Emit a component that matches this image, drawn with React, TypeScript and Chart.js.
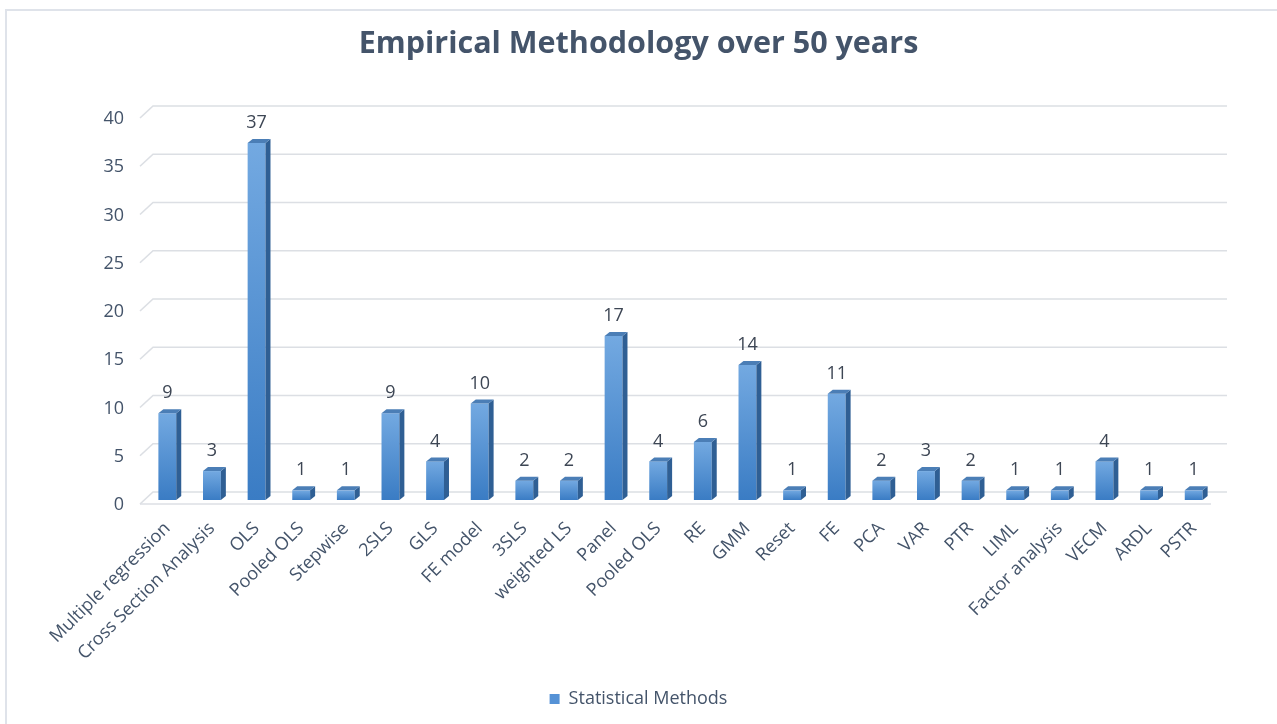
import React, { useEffect, useRef } from "react";
import { Chart, registerables } from "chart.js";

Chart.register(...registerables);

const categories: string[] = [
  "Multiple regression",
  "Cross Section Analysis",
  "OLS",
  "Pooled OLS",
  "Stepwise",
  "2SLS",
  "GLS",
  "FE model",
  "3SLS",
  "weighted LS",
  "Panel",
  "Pooled OLS",
  "RE",
  "GMM",
  "Reset",
  "FE",
  "PCA",
  "VAR",
  "PTR",
  "LIML",
  "Factor analysis",
  "VECM",
  "ARDL",
  "PSTR",
];

const methodCounts: number[] = [9, 3, 37, 1, 1, 9, 4, 10, 2, 2, 17, 4, 6, 14, 1, 11, 2, 3, 2, 1, 1, 4, 1, 1];

const seriesName = "Statistical Methods";
const chartTitle = "Empirical Methodology over 50 years";

const yMin = 0;
const yMax = 40;
const yStep = 5;

const FONT = "'Open Sans', 'DejaVu Sans', sans-serif";
const TEXT_COLOR = "#44546a";
const LABEL_COLOR = "#3d4654";
const GRID_COLOR = "#dcdfe4";
const FRONT_TOP = "#73a9e1";
const FRONT_BOTTOM = "#3a7cc4";
const SIDE_COLOR = "#2f5f94";
const TOP_COLOR = "#4b7eb6";
const LEGEND_SWATCH = "#5592d6";

// depth of the pseudo-3D bars and of the back wall
const BAR_DX = 5;
const BAR_DY = 4;
const WALL_DX = 13;
const WALL_DY = 12;

const frame = {
  id: "frame",
  beforeDraw(chart: any) {
    const { ctx, width, height } = chart;
    ctx.save();
    ctx.fillStyle = "#ffffff";
    ctx.fillRect(0, 0, width, height);
    ctx.strokeStyle = "#dfe3ea";
    ctx.lineWidth = 2;
    ctx.strokeRect(6, 10, width + 20, height + 20);
    ctx.restore();
  },
};

// back-wall gridlines with a slanted segment at the left, and the floor edge
const wall3d = {
  id: "wall3d",
  beforeDatasetsDraw(chart: any) {
    const { ctx, chartArea } = chart;
    const y = chart.scales.y;
    const left = chartArea.left - 5;
    const right = chartArea.right + 11;
    ctx.save();
    ctx.strokeStyle = GRID_COLOR;
    ctx.lineWidth = 1.6;
    y.ticks.forEach((t: any) => {
      const py = y.getPixelForValue(t.value) + 4;
      ctx.beginPath();
      ctx.moveTo(left, py);
      ctx.lineTo(left + WALL_DX, py - WALL_DY);
      ctx.lineTo(right, py - WALL_DY);
      ctx.stroke();
    });
    const base = y.getPixelForValue(0) + 4;
    ctx.beginPath();
    ctx.moveTo(left, base);
    ctx.lineTo(chartArea.right - 5, base);
    ctx.stroke();
    ctx.restore();
  },
};

// side and top faces of each bar, then its value above it
const bars3d = {
  id: "bars3d",
  afterDatasetsDraw(chart: any) {
    const { ctx } = chart;
    const meta = chart.getDatasetMeta(0);
    ctx.save();
    meta.data.forEach((bar: any, i: number) => {
      const { x, y, width, base } = bar.getProps(["x", "y", "width", "base"], true);
      const l = x - width / 2;
      const r = x + width / 2;
      ctx.fillStyle = SIDE_COLOR;
      ctx.beginPath();
      ctx.moveTo(r, y);
      ctx.lineTo(r + BAR_DX, y - BAR_DY);
      ctx.lineTo(r + BAR_DX, base - BAR_DY);
      ctx.lineTo(r, base);
      ctx.closePath();
      ctx.fill();
      ctx.fillStyle = TOP_COLOR;
      ctx.beginPath();
      ctx.moveTo(l, y);
      ctx.lineTo(l + BAR_DX, y - BAR_DY);
      ctx.lineTo(r + BAR_DX, y - BAR_DY);
      ctx.lineTo(r, y);
      ctx.closePath();
      ctx.fill();

      ctx.fillStyle = LABEL_COLOR;
      ctx.font = `18px ${FONT}`;
      ctx.textAlign = "center";
      ctx.textBaseline = "middle";
      ctx.fillText(String(methodCounts[i]), x, y - 20);
    });
    ctx.restore();
  },
};

export default function App() {
  const canvasRef = useRef<HTMLCanvasElement | null>(null);

  useEffect(() => {
    document.body.style.margin = "0";
    const canvas = canvasRef.current;
    if (!canvas) return;

    const chart = new Chart(canvas, {
      type: "bar",
      data: {
        labels: categories,
        datasets: [
          {
            label: seriesName,
            data: methodCounts,
            backgroundColor: (c: any) => {
              const ch = c.chart;
              if (!ch.chartArea || c.type !== "data") return LEGEND_SWATCH;
              const ys = ch.scales.y;
              const top = ys.getPixelForValue(c.raw);
              const bottom = ys.getPixelForValue(0);
              const g = ch.ctx.createLinearGradient(0, top, 0, bottom);
              g.addColorStop(0, FRONT_TOP);
              g.addColorStop(1, FRONT_BOTTOM);
              return g;
            },
            borderWidth: 0,
            barPercentage: 0.4,
            categoryPercentage: 1,
          },
        ],
      },
      options: {
        responsive: false,
        animation: false,
        layout: { padding: { left: 0, right: 0, top: 0, bottom: 6 } },
        plugins: {
          title: {
            display: true,
            text: chartTitle,
            color: TEXT_COLOR,
            font: { family: FONT, size: 30.5, weight: "bold", lineHeight: 1.2 },
            padding: { top: 26, bottom: 51.4 },
          },
          legend: {
            display: true,
            position: "bottom",
            labels: {
              color: TEXT_COLOR,
              font: { family: FONT, size: 18 },
              boxWidth: 10,
              boxHeight: 10,
              padding: 10,
              generateLabels: () => [
                {
                  text: seriesName,
                  fillStyle: LEGEND_SWATCH,
                  strokeStyle: LEGEND_SWATCH,
                  lineWidth: 0,
                  fontColor: TEXT_COLOR,
                  hidden: false,
                  datasetIndex: 0,
                },
              ],
            },
          },
          tooltip: { enabled: false },
        },
        scales: {
          x: {
            grid: { display: false, drawTicks: false },
            border: { display: false },
            ticks: {
              color: TEXT_COLOR,
              font: { family: FONT, size: 18 },
              minRotation: 45,
              maxRotation: 45,
              autoSkip: false,
              padding: 18,
            },
            afterFit(scale: any) {
              scale.height = 180;
            },
          },
          y: {
            min: yMin,
            max: yMax,
            grid: { display: false, drawTicks: false },
            border: { display: false },
            ticks: {
              stepSize: yStep,
              color: TEXT_COLOR,
              font: { family: FONT, size: 18 },
              padding: 21,
              labelOffset: 5,
            },
            afterFit(scale: any) {
              scale.width = 145;
            },
          },
          // empty margin on the right of the plot
          gutter: {
            type: "linear",
            position: "right",
            display: true,
            grid: { display: false, drawTicks: false },
            border: { display: false },
            ticks: { display: false },
            afterFit(scale: any) {
              scale.width = 61;
            },
          },
        },
      },
      plugins: [frame, wall3d, bars3d],
    });

    return () => chart.destroy();
  }, []);

  return (
    <div style={{ width: 1277, height: 724 }}>
      <canvas ref={canvasRef} width={1277} height={724} />
    </div>
  );
}
